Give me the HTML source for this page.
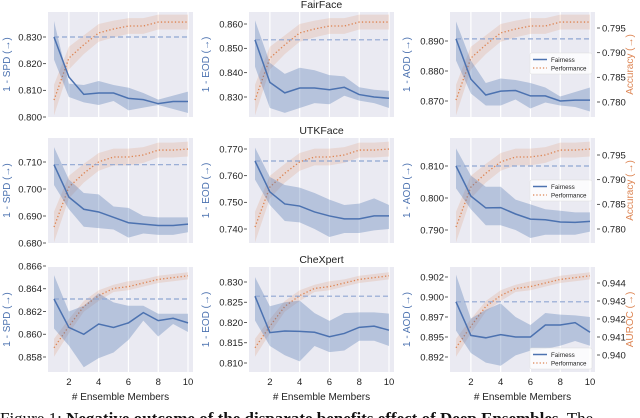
<!DOCTYPE html>
<html><head><meta charset="utf-8"><style>
html,body{margin:0;padding:0;background:#fff;}
svg{display:block;font-family:"Liberation Sans","DejaVu Sans",sans-serif;}
</style></head><body>
<svg id="fig" width="640" height="418" viewBox="0 0 640 418" xmlns="http://www.w3.org/2000/svg"></svg>
<script>
const xs=[1,2,3,4,5,6,7,8,9,10];
const xTicks=[2,4,6,8,10];
// Row 1: FairFace
const perf_r1=[0.7804,0.7889,0.7916,0.794,0.7948,0.7954,0.7954,0.7962,0.7962,0.7962];
const perfUp_r1=[0.7835,0.7912,0.7935,0.7958,0.7965,0.797,0.797,0.7977,0.7977,0.7977];
const perfLo_r1=[0.7773,0.7866,0.7897,0.7922,0.7931,0.7938,0.7938,0.7947,0.7947,0.7947];
const fair_r1c1=[0.830,0.815,0.8085,0.809,0.809,0.807,0.8065,0.805,0.8058,0.8058];
const up_r1c1=[0.836,0.8125,0.812,0.8135,0.812,0.811,0.809,0.8065,0.808,0.8095];
const lo_r1c1=[0.8215,0.8075,0.8055,0.8045,0.806,0.8025,0.8035,0.8045,0.803,0.8015];
const fair_r1c2=[0.8535,0.836,0.8317,0.8337,0.8337,0.833,0.834,0.831,0.830,0.8295];
const up_r1c2=[0.8615,0.844,0.8395,0.842,0.841,0.839,0.8385,0.834,0.833,0.8325];
const lo_r1c2=[0.8425,0.8255,0.8235,0.8255,0.8275,0.827,0.8305,0.8285,0.8275,0.8255];
const fair_r1c3=[0.8907,0.8773,0.872,0.8733,0.8735,0.8717,0.8717,0.870,0.8703,0.8703];
const up_r1c3=[0.8965,0.8835,0.876,0.8775,0.877,0.876,0.8745,0.8715,0.873,0.8745];
const lo_r1c3=[0.8835,0.8725,0.8685,0.8685,0.8705,0.8675,0.8695,0.8685,0.868,0.8665];
// Row 2: UTKFace
const perf_r2=[0.7804,0.7885,0.7913,0.7936,0.7946,0.7946,0.795,0.796,0.796,0.7962];
const perfUp_r2=[0.7835,0.7908,0.7932,0.7954,0.7963,0.7963,0.7966,0.7975,0.7975,0.7977];
const perfLo_r2=[0.7773,0.7862,0.7894,0.7918,0.7929,0.7929,0.7934,0.7945,0.7945,0.7947];
const fair_r2c1=[0.709,0.697,0.6925,0.6915,0.6895,0.6875,0.687,0.6865,0.6865,0.687];
const up_r2c1=[0.7155,0.7035,0.6985,0.698,0.6935,0.693,0.690,0.6895,0.6895,0.6895];
const lo_r2c1=[0.7015,0.6925,0.686,0.6855,0.685,0.682,0.6835,0.683,0.683,0.684];
const fair_r2c2=[0.7655,0.7539,0.7494,0.7486,0.7464,0.7449,0.7438,0.7438,0.7449,0.7449];
const up_r2c2=[0.7705,0.7595,0.7565,0.7555,0.7535,0.751,0.749,0.7495,0.7515,0.749];
const lo_r2c2=[0.7585,0.749,0.743,0.7425,0.740,0.737,0.7385,0.7385,0.7395,0.740];
const fair_r2c3=[0.810,0.8006,0.7969,0.797,0.795,0.7934,0.7932,0.7925,0.7924,0.7927];
const up_r2c3=[0.8155,0.807,0.8035,0.8035,0.7995,0.798,0.7965,0.796,0.7955,0.7955];
const lo_r2c3=[0.803,0.7965,0.7915,0.7915,0.790,0.7875,0.7885,0.7885,0.7885,0.7895];
// Row 3: CheXpert
const perf_r3=[0.9404,0.9416,0.9427,0.9433,0.9437,0.9438,0.944,0.9442,0.9443,0.9444];
const perfUp_r3=[0.9409,0.9420,0.9430,0.9436,0.9439,0.9441,0.9442,0.9444,0.9445,0.9446];
const perfLo_r3=[0.9399,0.9412,0.9424,0.9430,0.9435,0.9436,0.9438,0.9440,0.9441,0.9442];
const fair_r3c1=[0.8631,0.8606,0.860,0.8609,0.8606,0.861,0.8619,0.8612,0.8614,0.861];
const up_r3c1=[0.8652,0.862,0.8625,0.8636,0.8628,0.8625,0.8625,0.8618,0.8618,0.8618];
const lo_r3c1=[0.8605,0.859,0.8571,0.8579,0.8584,0.8595,0.8612,0.8598,0.8609,0.8602];
const fair_r3c2=[0.8265,0.8175,0.8179,0.8178,0.8176,0.8165,0.8173,0.8188,0.8191,0.8181];
const up_r3c2=[0.8312,0.824,0.825,0.8254,0.8223,0.8204,0.8223,0.8225,0.8225,0.8222];
const lo_r3c2=[0.8205,0.8142,0.8119,0.8104,0.8142,0.8127,0.8131,0.8155,0.8155,0.8142];
const fair_r3c3=[0.8994,0.8952,0.8949,0.8953,0.895,0.895,0.8965,0.8965,0.8968,0.8956];
const up_r3c3=[0.9028,0.8973,0.8984,0.8992,0.8975,0.8965,0.898,0.8978,0.8977,0.8975];
const lo_r3c3=[0.8958,0.893,0.8918,0.8914,0.8927,0.8933,0.8935,0.8939,0.8945,0.8939];
// tick labels
const ticks_r1c1=[0.800,0.810,0.820,0.830];
const ticks_r1c2=[0.830,0.840,0.850,0.860];
const ticks_r1c3=[0.870,0.880,0.890];
const ticks_r2c1=[0.680,0.690,0.700,0.710];
const ticks_r2c2=[0.740,0.750,0.760,0.770];
const ticks_r2c3=[0.790,0.800,0.810];
const ticks_r3c1=[0.858,0.860,0.862,0.864,0.866];
const ticks_r3c2=[0.810,0.815,0.820,0.825,0.830];
const ticks_r3c3=[0.8925,0.8950,0.8975,0.9000,0.9025];
const rticks_r1=[0.780,0.785,0.790,0.795];
const rticks_r2=[0.780,0.785,0.790,0.795];
const rticks_r3=[0.940,0.941,0.942,0.943,0.944];
const rowTitles=["FairFace","UTKFace","CheXpert"];
const colMetrics=["SPD","EOD","AOD"];
const rightTitles=["Accuracy (\u2192)","Accuracy (\u2192)","AUROC (\u2192)"];

const NS="http://www.w3.org/2000/svg";
const svg=document.getElementById('fig');
function mk(tag,attrs,parent){const e=document.createElementNS(NS,tag);for(const k in attrs)e.setAttribute(k,attrs[k]);(parent||svg).appendChild(e);return e;}
const BLUE="#4c72b0",ORANGE="#dd8452";
const lefts=[48,249,450],tops=[12,138,267],W=145,H=105;
// y-scale anchors (value, pixel)
const yAnch=[
 [[0.830,37],[0.800,117]],[[0.860,24],[0.830,97]],[[0.890,41],[0.870,101]],
 [[0.710,162],[0.680,243]],[[0.770,149],[0.740,229]],[[0.810,166],[0.790,230]],
 [[0.866,266],[0.858,357]],[[0.830,282],[0.810,363]],[[0.900,297],[0.8925,357]]];
const pAnch=[[[0.795,28],[0.780,102]],[[0.795,155],[0.780,229]],[[0.944,283],[0.940,355]]];
const fairs=[[fair_r1c1,up_r1c1,lo_r1c1],[fair_r1c2,up_r1c2,lo_r1c2],[fair_r1c3,up_r1c3,lo_r1c3],
 [fair_r2c1,up_r2c1,lo_r2c1],[fair_r2c2,up_r2c2,lo_r2c2],[fair_r2c3,up_r2c3,lo_r2c3],
 [fair_r3c1,up_r3c1,lo_r3c1],[fair_r3c2,up_r3c2,lo_r3c2],[fair_r3c3,up_r3c3,lo_r3c3]];
const perfs=[[perf_r1,perfUp_r1,perfLo_r1],[perf_r2,perfUp_r2,perfLo_r2],[perf_r3,perfUp_r3,perfLo_r3]];
const lticks=[ticks_r1c1,ticks_r1c2,ticks_r1c3,ticks_r2c1,ticks_r2c2,ticks_r2c3,ticks_r3c1,ticks_r3c2,ticks_r3c3];
const rticks=[rticks_r1,rticks_r2,rticks_r3];
function lin(a){const [[v1,p1],[v2,p2]]=a;return v=>p1+(v-v1)*(p2-p1)/(v2-v1);}
function pts(xf,yf,arr){return arr.map((v,i)=>xf(xs[i]).toFixed(2)+","+yf(v).toFixed(2));}
function fmt(v,r,c){if(r===2&&c===2){return (Math.floor(v*1000+1e-6)/1000).toFixed(3);}return v.toFixed(3);}

for(let r=0;r<3;r++){
 const t=mk('text',{x:lefts[1]+W/2,y:tops[r]-4,'text-anchor':'middle','font-size':'10.5',fill:'#222'});
 t.textContent=rowTitles[r];
 
 
 for(let c=0;c<3;c++){
  const i=r*3+c,L=lefts[c],T=tops[r];
  const g=mk('g',{});
  
  
  const bg=mk('rect',{x:L,y:T,width:W,height:H,fill:'#eaeaf2'},g);
  
  
  const xf=v=>L+6+(v-1)*(134/9);
  const yf=lin(yAnch[i]);const pf=lin(pAnch[r]);
  for(const xt of xTicks){
   const gl=mk('line',{x1:xf(xt),x2:xf(xt),y1:T,y2:T+H,stroke:'#fff','stroke-width':1.2},g);
   
   
  }
  const clip=mk('clipPath',{id:'cp'+i},g);mk('rect',{x:L,y:T,width:W,height:H},clip);
  const pg=mk('g',{'clip-path':'url(#cp'+i+')'},g);
  // performance band + line
  const [pm,pu,pl]=perfs[r];
  const pb=mk('polygon',{points:pts(xf,pf,pu).concat(pts(xf,pf,pl).reverse()).join(' '),fill:ORANGE,'fill-opacity':0.18},pg);
  
  
  const pline=mk('polyline',{points:pts(xf,pf,pm).join(' '),fill:'none',stroke:ORANGE,'stroke-width':1.3,'stroke-dasharray':'1.3,2.2'},pg);
  
  
  // fairness band + line
  const [fm,fu,fl]=fairs[i];
  const fb=mk('polygon',{points:pts(xf,yf,fu).concat(pts(xf,yf,fl).reverse()).join(' '),fill:BLUE,'fill-opacity':0.33},pg);
  
  
  const bl=mk('line',{x1:xf(1),x2:xf(10),y1:yf(fm[0]),y2:yf(fm[0]),stroke:'#8fa6d2','stroke-width':1.2,'stroke-dasharray':'5,3'},pg);
  
  
  const fline=mk('polyline',{points:pts(xf,yf,fm).join(' '),fill:'none',stroke:BLUE,'stroke-width':1.5},pg);
  
  
  // left ticks
  for(const tv of lticks[i]){
   const y=yf(tv);
   mk('line',{x1:L-5,x2:L-2,y1:y,y2:y,stroke:'#333','stroke-width':0.8},g);
   const tl=mk('text',{x:L-6,y:y+3.3,'text-anchor':'end','font-size':'9.5',fill:'#222'},g);
   tl.textContent=fmt(tv,r,c);
   
   
  }
  const lx=[10,209,410][c],ly=T+H/2;
  const yl=mk('text',{x:lx,y:ly,'text-anchor':'middle','font-size':'10',fill:BLUE,transform:'rotate(-90 '+lx+' '+ly+')'},g);
  yl.textContent='1 - '+colMetrics[c]+' (\u2192)';
  
  
  if(c===2){
   for(const tv of rticks[r]){
    const y=pf(tv);
    mk('line',{x1:L+W+2,x2:L+W+5,y1:y,y2:y,stroke:'#333','stroke-width':0.8},g);
    const rl=mk('text',{x:L+W+7,y:y+3.3,'font-size':'9.5',fill:'#222'},g);
    rl.textContent=tv.toFixed(3);
    
    
   }
   const rx=633;
   const rt=mk('text',{x:rx,y:ly,'text-anchor':'middle','font-size':'10',fill:ORANGE,transform:'rotate(-90 '+rx+' '+ly+')'},g);
   rt.textContent=rightTitles[r];
   
   
   const legY=[53,180,348][r];
   const lg=mk('g',{},g);
   
   
   mk('rect',{x:530,y:legY,width:62,height:21,fill:'#fff','fill-opacity':0.8,stroke:'#ddd','stroke-width':0.5,rx:1.5},lg);
   mk('line',{x1:533,x2:547,y1:legY+6.5,y2:legY+6.5,stroke:BLUE,'stroke-width':1.5},lg);
   mk('line',{x1:533,x2:547,y1:legY+15,y2:legY+15,stroke:ORANGE,'stroke-width':1.2,'stroke-dasharray':'1.3,2'},lg);
   const t1=mk('text',{x:551,y:legY+9,'font-size':'6.2',fill:'#222'},lg);t1.textContent='Fairness';
   const t2=mk('text',{x:551,y:legY+17.5,'font-size':'6.2',fill:'#222'},lg);t2.textContent='Performance';
  }
  if(r===2){
   for(const xt of xTicks){
    const xl=mk('text',{x:xf(xt),y:385,'text-anchor':'middle','font-size':'9.5',fill:'#222'},g);
    xl.textContent=String(xt);
    
    
   }
   const xt=mk('text',{x:L+W/2,y:400,'text-anchor':'middle','font-size':'10',fill:'#222'},g);
   xt.textContent='# Ensemble Members';
   
   
  }
 }
}
const cap=mk('text',{x:0,y:424,'font-size':'17',fill:'#111','font-family':'"Liberation Serif",serif'});


cap.innerHTML='Figure 1: <tspan font-weight="bold">Negative outcome of the disparate benefits effect of Deep Ensembles.</tspan> The';
</script>
</body></html>
